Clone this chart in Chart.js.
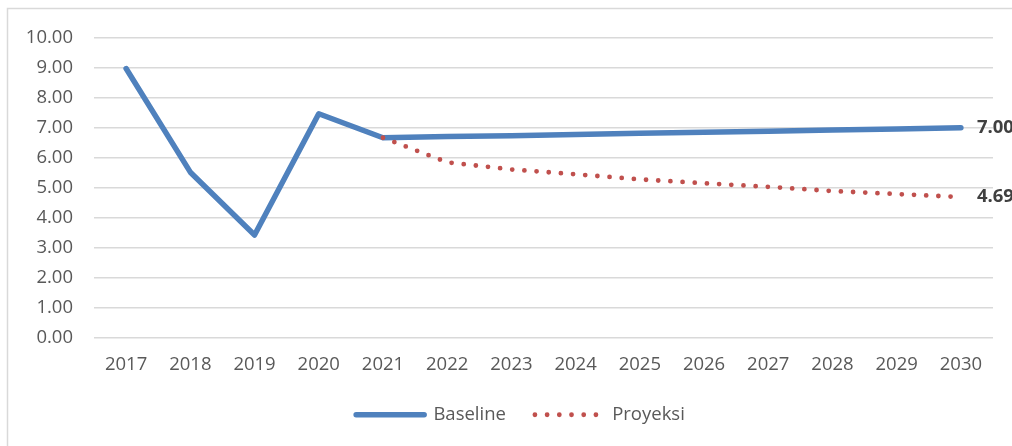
<!DOCTYPE html>
<html>
<head>
<meta charset="utf-8">
<script src="https://cdn.jsdelivr.net/npm/chart.js@4"></script>
<style>
  html, body { margin: 0; padding: 0; background: #ffffff; }
  #wrap { position: relative; width: 1012px; height: 446px; }
</style>
</head>
<body>
<div id="wrap"><canvas id="chart" width="1012" height="446"></canvas></div>
<script>
// Years on the x axis
const years = ['2017', '2018', '2019', '2020', '2021', '2022', '2023', '2024', '2025', '2026', '2027', '2028', '2029', '2030'];

// Baseline series (actual up to 2021, then flat-ish trend)
const baseline = [8.98, 5.52, 3.42, 7.47, 6.67, 6.71, 6.74, 6.78, 6.82, 6.85, 6.89, 6.93, 6.96, 7.00];

// Projection series starts from 2021
const proyeksi = [null, null, null, null, 6.67, 5.85, 5.61, 5.45, 5.28, 5.15, 5.03, 4.89, 4.79, 4.69];

const FONT = '"Open Sans", "Liberation Sans", sans-serif';
const BLUE = '#4f81bd';
const RED = '#c0504d';
const GRID = '#d9d9d9';

// Frame lines (left and top edge of the chart box)
const framePlugin = {
    id: 'frame',
    beforeDraw(chart) {
        const ctx = chart.ctx;
        ctx.save();
        ctx.strokeStyle = GRID;
        ctx.lineWidth = 1.5;
        ctx.beginPath();
        ctx.moveTo(7.5, 446);
        ctx.lineTo(7.5, 8.5);
        ctx.lineTo(1012, 8.5);
        ctx.stroke();
        ctx.restore();
    }
};

// Center the legend under the plot rather than the whole canvas
const legendShift = {
    id: 'legendShift',
    afterLayout(chart) {
        if (chart.legend) {
            chart.legend.left = 48;
        }
    }
};

// Value label next to the last point of each series
const endLabelPlugin = {
    id: 'endLabels',
    afterDatasetsDraw(chart) {
        const ctx = chart.ctx;
        ctx.save();
        ctx.font = 'bold 18.5px ' + FONT;
        ctx.fillStyle = '#404040';
        ctx.textAlign = 'left';
        ctx.textBaseline = 'middle';
        chart.data.datasets.forEach((ds, i) => {
            const meta = chart.getDatasetMeta(i);
            const last = ds.data.length - 1;
            const pt = meta.data[last];
            ctx.fillText(ds.data[last].toFixed(2), pt.x + 16, pt.y);
        });
        ctx.restore();
    }
};

const ctx = document.getElementById('chart').getContext('2d');

new Chart(ctx, {
    type: 'line',
    data: {
        labels: years,
        datasets: [{
            label: 'Baseline',
            data: baseline,
            borderColor: BLUE,
            backgroundColor: BLUE,
            borderWidth: 5.5,
            borderCapStyle: 'round',
            borderJoinStyle: 'round',
            pointRadius: 0,
            tension: 0,
            order: 2
        }, {
            label: 'Proyeksi',
            data: proyeksi,
            borderColor: RED,
            backgroundColor: RED,
            borderWidth: 4.8,
            borderDash: [0, 12.2],
            borderCapStyle: 'round',
            pointRadius: 0,
            tension: 0,
            order: 1
        }]
    },
    options: {
        responsive: false,
        animation: false,
        layout: {
            padding: { left: 0, right: 19, top: 38, bottom: 12 }
        },
        scales: {
            x: {
                offset: true,
                grid: { display: false, drawTicks: false },
                border: { display: false },
                ticks: {
                    color: '#595959',
                    font: { family: FONT, size: 18.5 },
                    padding: 16,
                    maxRotation: 0,
                    autoSkip: false
                },
                afterFit(scale) { scale.height = 39; }
            },
            y: {
                min: 0,
                max: 10,
                grid: { color: GRID, lineWidth: 1.5, drawTicks: false },
                border: { display: false },
                ticks: {
                    stepSize: 1,
                    color: '#595959',
                    font: { family: FONT, size: 18.5 },
                    padding: 21,
                    callback: (v) => Number(v).toFixed(2)
                },
                afterFit(scale) { scale.width = 94; }
            }
        },
        plugins: {
            tooltip: { enabled: false },
            legend: {
                position: 'bottom',
                labels: {
                    color: '#595959',
                    font: { family: FONT, size: 18.5 },
                    usePointStyle: true,
                    pointStyleWidth: 68,
                    boxWidth: 68,
                    boxHeight: 6,
                    padding: 29,
                    generateLabels(chart) {
                        return chart.data.datasets.map((ds, i) => ({
                            text: ds.label,
                            datasetIndex: i,
                            fontColor: '#595959',
                            fillStyle: 'rgba(0,0,0,0)',
                            strokeStyle: ds.borderColor,
                            lineWidth: ds.borderWidth,
                            lineCap: 'round',
                            lineDash: ds.borderDash || [],
                            pointStyle: 'line',
                            hidden: false
                        }));
                    }
                }
            }
        }
    },
    plugins: [framePlugin, legendShift, endLabelPlugin]
});
</script>
</body>
</html>
